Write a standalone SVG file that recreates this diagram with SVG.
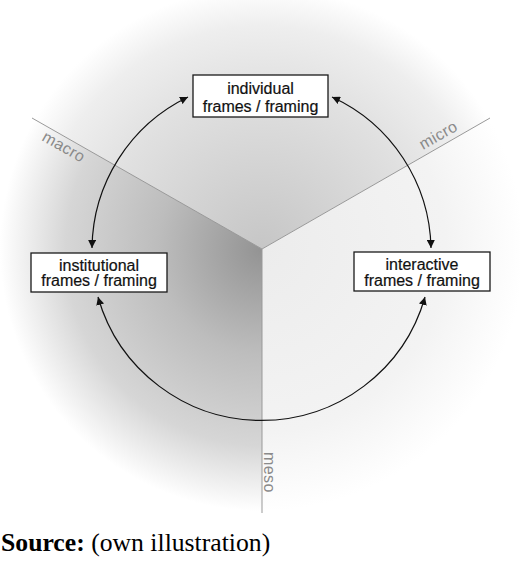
<svg xmlns="http://www.w3.org/2000/svg" width="520" height="564" viewBox="0 0 520 564">
<style>
.box{fill:#fff;stroke:#1a1a1a;stroke-width:1.3}
.lbl{font-family:"Liberation Sans",Arial,sans-serif;font-size:16px;fill:#111;stroke:#111;stroke-width:0.2;text-anchor:middle}
.axis{stroke:#999;stroke-width:1;fill:none}
.ax{font-family:"Liberation Sans",Arial,sans-serif;font-size:16px;letter-spacing:0.4px;fill:#8a8a8a}
.arc{fill:none;stroke:#111;stroke-width:1.2}
</style>
<defs>
<radialGradient id="gTop" gradientUnits="userSpaceOnUse" cx="262" cy="249" r="262">
<stop offset="0" stop-color="#c6c6c6"/>
<stop offset="0.6" stop-color="#e0e0e0"/>
<stop offset="0.85" stop-color="#eeeeee"/>
<stop offset="1" stop-color="#ffffff"/>
</radialGradient>
<radialGradient id="gLeft" gradientUnits="userSpaceOnUse" cx="262" cy="249" r="262">
<stop offset="0" stop-color="#939393"/>
<stop offset="0.4" stop-color="#bdbdbd"/>
<stop offset="0.75" stop-color="#d6d6d6"/>
<stop offset="1" stop-color="#ffffff"/>
</radialGradient>
<radialGradient id="gRight" gradientUnits="userSpaceOnUse" cx="262" cy="249" r="262">
<stop offset="0" stop-color="#ececec"/>
<stop offset="0.7" stop-color="#f3f3f3"/>
<stop offset="1" stop-color="#ffffff"/>
</radialGradient>
<marker id="ah" viewBox="0 0 10 10" refX="10" refY="5" markerWidth="8" markerHeight="8" markerUnits="userSpaceOnUse" orient="auto-start-reverse">
<path d="M0,0 L10,5 L0,10 z" fill="#111"/>
</marker>
</defs>
<rect width="520" height="564" fill="#fff"/>
<g id="background">
<polygon points="262,249 -428,-144 946,-144" fill="url(#gTop)"/>
<polygon points="262,249 -428,-144 -428,900 262,900" fill="url(#gLeft)"/>
<polygon points="262,249 262,900 946,900 946,-144" fill="url(#gRight)"/>
<rect x="0" y="520" width="520" height="44" fill="#fff"/>
</g>
<g id="axes">
<line class="axis" x1="32" y1="118" x2="262" y2="249"/>
<line class="axis" x1="490" y1="118" x2="262" y2="249"/>
<line class="axis" x1="262" y1="249" x2="262" y2="513"/>
<text class="ax" transform="translate(41,140) rotate(29.5)">macro</text>
<text class="ax" transform="translate(423,150) rotate(-29.6)">micro</text>
<text class="ax" transform="translate(264,452) rotate(90)">meso</text>
</g>
<g id="connectors">
<path class="arc" d="M188,97 A170,170 0 0 0 92,248" marker-start="url(#ah)" marker-end="url(#ah)"/>
<path class="arc" d="M332,97 A170,170 0 0 1 431,248" marker-start="url(#ah)" marker-end="url(#ah)"/>
<path class="arc" d="M98,297 A170,170 0 0 0 425,297" marker-start="url(#ah)" marker-end="url(#ah)"/>
</g>
<g id="individual">
<rect class="box" x="193" y="75" width="135" height="42"/>
<text class="lbl" x="260.5" y="94">individual</text>
<text class="lbl" x="260.5" y="112">frames / framing</text>
</g>
<g id="institutional">
<rect class="box" x="31" y="253" width="136" height="39"/>
<text class="lbl" x="99" y="270.5">institutional</text>
<text class="lbl" x="99" y="286">frames / framing</text>
</g>
<g id="interactive">
<rect class="box" x="354" y="252" width="136" height="39"/>
<text class="lbl" x="422" y="270">interactive</text>
<text class="lbl" x="422" y="285.5">frames / framing</text>
</g>
<g id="caption">
<text x="1" y="551" font-family="'Liberation Serif','Times New Roman',serif" font-size="25.7px" fill="#000"><tspan font-weight="bold">Source:</tspan> (own illustration)</text>
</g>
</svg>
